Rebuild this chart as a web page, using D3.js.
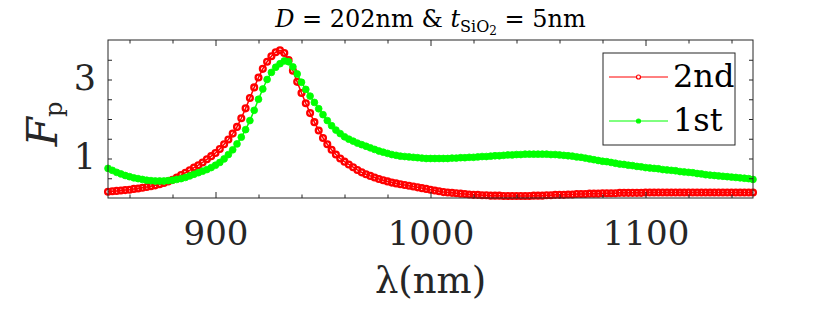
<html>
<head>
    <title>Fp vs wavelength</title>
    <script src="https://cdn.jsdelivr.net/npm/d3@7"></script>
    <style>
        body { margin: 0; background: #fff; }
        svg text { font-family: "DejaVu Serif", "Liberation Serif", serif; fill: #262626; }
    </style>
</head>
<body>
    <svg id="chart"></svg>
</body>
<script>
    //Global Variables
    const WIDTH = 830
    const HEIGHT = 313
    const MARGIN = { left: 108, top: 40, right: 77, bottom: 115 }
    const COLOR_2ND = "#ff0000"
    const COLOR_1ST = "#00ff00"
    const AXIS_COLOR = "#262626"
    const SERIF = "\"DejaVu Serif\", \"Liberation Serif\", serif"

    //-------------------------- Data --------------------------
    // sampling grid of the simulation, 2 nm steps
    const wavelength = d3.range(850, 1151, 2)

    // F_p of the 2nd order mode (850 ... 1150 nm)
    const fp2nd = [
        0.16, 0.17, 0.18, 0.19, 0.20, 0.21, 0.23, 0.24, 0.26, 0.28,
        0.30, 0.32, 0.35, 0.38, 0.42, 0.46, 0.52, 0.58, 0.64, 0.70,
        0.77, 0.83, 0.90, 0.98, 1.06, 1.14, 1.24, 1.36, 1.48, 1.63,
        1.80, 2.02, 2.27, 2.53, 2.80, 3.05, 3.27, 3.45, 3.59, 3.69,
        3.74, 3.67, 3.49, 3.22, 2.94, 2.66, 2.40, 2.15, 1.92, 1.71,
        1.52, 1.36, 1.22, 1.10, 1.00, 0.92, 0.85, 0.78, 0.71, 0.65,
        0.60, 0.56, 0.52, 0.48, 0.45, 0.42, 0.39, 0.37, 0.35, 0.33,
        0.31, 0.29, 0.27, 0.25, 0.23, 0.21, 0.19, 0.17, 0.15, 0.14,
        0.13, 0.12, 0.11, 0.10, 0.09, 0.08, 0.08, 0.07, 0.07, 0.06,
        0.06, 0.06, 0.05, 0.05, 0.05, 0.05, 0.05, 0.05, 0.05, 0.06,
        0.06, 0.06, 0.07, 0.07, 0.08, 0.08, 0.08, 0.09, 0.09, 0.10,
        0.10, 0.10, 0.11, 0.11, 0.11, 0.12, 0.12, 0.12, 0.12, 0.13,
        0.13, 0.13, 0.13, 0.13, 0.13, 0.14, 0.14, 0.14, 0.14, 0.14,
        0.14, 0.14, 0.14, 0.14, 0.14, 0.14, 0.14, 0.14, 0.14, 0.14,
        0.14, 0.14, 0.14, 0.14, 0.14, 0.14, 0.14, 0.14, 0.14, 0.14,
        0.14
    ]

    // F_p of the 1st order mode
    const fp1st = [
        0.75, 0.70, 0.65, 0.61, 0.57, 0.54, 0.51, 0.49, 0.47, 0.45,
        0.44, 0.43, 0.43, 0.43, 0.44, 0.45, 0.47, 0.49, 0.52, 0.56,
        0.60, 0.64, 0.68, 0.72, 0.77, 0.83, 0.90, 0.99, 1.10, 1.22,
        1.37, 1.54, 1.73, 1.96, 2.22, 2.50, 2.76, 3.00, 3.18, 3.31,
        3.40, 3.47, 3.45, 3.32, 3.14, 2.93, 2.75, 2.58, 2.42, 2.26,
        2.11, 1.96, 1.83, 1.72, 1.63, 1.55, 1.49, 1.44, 1.39, 1.35,
        1.31, 1.27, 1.23, 1.19, 1.16, 1.13, 1.10, 1.08, 1.06, 1.05,
        1.04, 1.03, 1.02, 1.01, 1.00, 1.00, 1.00, 1.00, 1.00, 1.00,
        1.01, 1.01, 1.02, 1.02, 1.03, 1.03, 1.04, 1.05, 1.05, 1.06,
        1.07, 1.07, 1.08, 1.09, 1.09, 1.10, 1.10, 1.11, 1.11, 1.11,
        1.11, 1.11, 1.11, 1.10, 1.10, 1.09, 1.08, 1.07, 1.06, 1.04,
        1.03, 1.01, 0.99, 0.97, 0.95, 0.93, 0.92, 0.90, 0.88, 0.86,
        0.85, 0.83, 0.82, 0.80, 0.79, 0.77, 0.76, 0.75, 0.74, 0.72,
        0.71, 0.70, 0.69, 0.67, 0.66, 0.65, 0.64, 0.62, 0.61, 0.59,
        0.58, 0.57, 0.56, 0.55, 0.54, 0.53, 0.52, 0.51, 0.50, 0.49,
        0.47
    ]

    const seriesNames = ["2nd", "1st"]
    const xMajorTicks = [900, 1000, 1100]
    const xMinorTicks = [860, 880, 920, 940, 960, 980, 1020, 1040, 1060, 1080, 1120, 1140]
    const yTicks = [0.5, 1, 1.5, 2, 2.5, 3, 3.5]
    const yTickLabels = [1, 3]
    const xDomain = [850, 1150]
    const yDomain = [0, 4]

    //-------------------------- Setup --------------------------
    const svg = d3.select("#chart").attr("width", WIDTH).attr("height", HEIGHT)

    const xScale = d3.scaleLinear().domain(xDomain).range([MARGIN.left, WIDTH - MARGIN.right])
    const yScale = d3.scaleLinear().domain(yDomain).range([HEIGHT - MARGIN.bottom, MARGIN.top])

    const x0 = MARGIN.left, x1 = WIDTH - MARGIN.right
    const y0 = HEIGHT - MARGIN.bottom, y1 = MARGIN.top

    //-------------------------- Series --------------------------
    const series = [
        { name: seriesNames[0], values: fp2nd, color: COLOR_2ND, open: true },
        { name: seriesNames[1], values: fp1st, color: COLOR_1ST, open: false }
    ]

    const plot = svg.append("g")
    const line = d3.line()
        .x((d, i) => xScale(wavelength[i]))
        .y(d => yScale(d))

    series.forEach(s => {
        const g = plot.append("g")
        g.append("path")
            .datum(s.values)
            .attr("fill", "none")
            .attr("stroke", s.color)
            .attr("stroke-width", 1.5)
            .attr("d", line)
        g.selectAll("circle")
            .data(s.values)
            .enter()
            .append("circle")
            .attr("cx", (d, i) => xScale(wavelength[i]))
            .attr("cy", d => yScale(d))
            .attr("r", s.open ? 2.9 : 3.4)
            .attr("fill", s.open ? "none" : s.color)
            .attr("stroke", s.color)
            .attr("stroke-width", s.open ? 2.3 : 0.8)
    })

    //-------------------------- Axes --------------------------
    function styleAxis(g) {
        g.attr("font-family", null)
        g.select(".domain").remove()
        g.selectAll(".tick line").attr("stroke", AXIS_COLOR).attr("stroke-width", 1)
        g.selectAll(".tick text").attr("fill", AXIS_COLOR).style("font-family", SERIF)
    }

    // bottom
    svg.append("g")
        .attr("transform", `translate(0,${y0})`)
        .call(d3.axisBottom(xScale).tickValues(xMajorTicks).tickSize(-6).tickFormat(d3.format("d")))
        .call(styleAxis)
        .call(g => g.selectAll(".tick text")
            .attr("y", 47).attr("dy", 0)
            .style("font-size", "34px"))
    svg.append("g")
        .attr("transform", `translate(0,${y0})`)
        .call(d3.axisBottom(xScale).tickValues(xMinorTicks).tickSize(-3.5).tickFormat(""))
        .call(styleAxis)

    // top
    svg.append("g")
        .attr("transform", `translate(0,${y1})`)
        .call(d3.axisTop(xScale).tickValues(xMajorTicks).tickSize(-6).tickFormat(""))
        .call(styleAxis)
    svg.append("g")
        .attr("transform", `translate(0,${y1})`)
        .call(d3.axisTop(xScale).tickValues(xMinorTicks).tickSize(-3.5).tickFormat(""))
        .call(styleAxis)

    // left
    svg.append("g")
        .attr("transform", `translate(${x0},0)`)
        .call(d3.axisLeft(yScale).tickValues(yTicks).tickSize(-4)
            .tickFormat(d => yTickLabels.includes(d) ? d : ""))
        .call(styleAxis)
        .call(g => g.selectAll(".tick text")
            .attr("x", -12).attr("dy", 10)
            .style("font-size", "35px"))

    // right
    svg.append("g")
        .attr("transform", `translate(${x1},0)`)
        .call(d3.axisRight(yScale).tickValues(yTicks).tickSize(-4).tickFormat(""))
        .call(styleAxis)

    // box
    svg.append("rect")
        .attr("x", x0).attr("y", y1)
        .attr("width", x1 - x0).attr("height", y0 - y1)
        .attr("fill", "none")
        .attr("stroke", AXIS_COLOR)
        .attr("stroke-width", 1)

    //-------------------------- Labels --------------------------
    const title = svg.append("text")
        .attr("x", (x0 + x1) / 2)
        .attr("y", 27)
        .attr("text-anchor", "middle")
        .style("font-size", "24px")
        .style("fill", "#000")
    title.append("tspan").style("font-style", "italic").text("D")
    title.append("tspan").text(" = 202nm & ")
    title.append("tspan").style("font-style", "italic").text("t")
    title.append("tspan").attr("dy", 5).style("font-size", "16px").text("SiO")
    title.append("tspan").attr("dy", 3).style("font-size", "12px").text("2")
    title.append("tspan").attr("dy", -8).text(" = 5nm")

    svg.append("text")
        .attr("x", (x0 + x1) / 2)
        .attr("y", 293)
        .attr("text-anchor", "middle")
        .style("font-size", "37px")
        .text("λ(nm)")

    const ylab = svg.append("text")
        .attr("transform", "translate(57,124) rotate(-90)")
        .attr("text-anchor", "middle")
    ylab.append("tspan").style("font-style", "italic").style("font-size", "42px").text("F")
    ylab.append("tspan").attr("dy", 5).style("font-size", "24px").text("p")

    //-------------------------- Legend --------------------------
    const legend = svg.append("g")
    legend.append("rect")
        .attr("x", 603).attr("y", 53)
        .attr("width", 132).attr("height", 92)
        .attr("fill", "#fff")
        .attr("stroke", AXIS_COLOR)
        .attr("stroke-width", 1)

    series.forEach((s, i) => {
        const ly = 77 + i * 44
        legend.append("line")
            .attr("x1", 609).attr("x2", 668)
            .attr("y1", ly).attr("y2", ly)
            .attr("stroke", s.color).attr("stroke-width", 1)
        legend.append("circle")
            .attr("cx", 638.5).attr("cy", ly).attr("r", 2)
            .attr("fill", s.open ? "#fff" : s.color)
            .attr("stroke", s.color).attr("stroke-width", 1.2)
        legend.append("text")
            .attr("x", 673).attr("y", ly + 10)
            .style("font-size", "32px")
            .style("fill", "#000")
            .text(s.name)
    })
</script>
</html>
